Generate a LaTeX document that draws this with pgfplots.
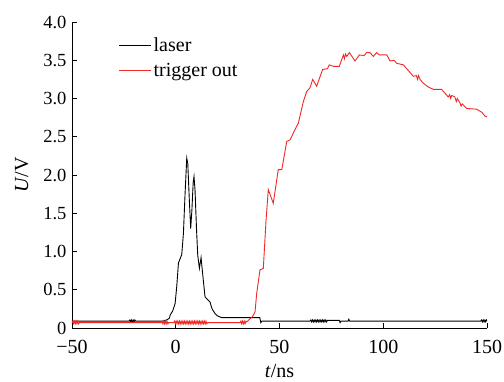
\documentclass[border=0pt]{standalone}
\usepackage{fontspec}
\setmainfont{Liberation Serif}
\usepackage{pgfplots}
\pgfplotsset{compat=1.18}
\definecolor{trig}{RGB}{240,40,40}
\begin{document}
\begin{tikzpicture}
\begin{axis}[
  scale only axis, width=415pt, height=306pt,
  at={(0,0)}, anchor=south west,
  xmin=-50, xmax=150, ymin=0, ymax=4,
  axis x line*=bottom, axis y line*=left,
  axis line style={line width=0.8pt, -},
  tick align=inside, major tick length=5pt,
  tick style={line width=0.8pt, black},
  xtick={-50,0,50,100,150},
  xticklabels={−50,0,50,100,150},
  ytick={0,0.5,1,1.5,2,2.5,3,3.5,4},
  yticklabels={0,0.5,1.0,1.5,2.0,2.5,3.0,3.5,4.0},
  x tick label style={font=\fontsize{20}{22}\selectfont, yshift=-9pt},
  y tick label style={font=\fontsize{18.5}{22}\selectfont, xshift=-2pt},
  xlabel={\textit{t}/ns}, ylabel={\textit{U}/V},
  label style={font=\fontsize{20}{22}\selectfont},
  xlabel style={yshift=-3pt},
  ylabel style={yshift=8pt},
  legend style={draw=none, fill=none, at={(rel axis cs:0.105,0.962)}, anchor=north west,
    font=\fontsize{20}{24}\selectfont, row sep=6pt},
  legend cell align=left,
  legend image code/.code={\draw[#1] (0pt,0pt) -- (32pt,0pt);},
]
\addplot[black, line width=0.9pt] coordinates {
(-50,0.09) (-22.5,0.09) (-22.1,0.105) (-21.7,0.08) (-21.3,0.105) (-20.9,0.08) (-20.5,0.105) (-20.1,0.08) (-19.7,0.105) (-19.3,0.09)
(-6,0.09) (-4,0.11) (-3,0.13) (-2.7,0.17) (-1.5,0.22) (-0.3,0.32) (0.5,0.55) (1.3,0.85) (2.9,0.96) (3.7,1.24) (4.5,1.76) (5.3,2.22)
(5.8,2.15) (6.5,1.70) (7.2,1.30) (7.8,1.55) (8.4,1.90) (8.8,1.98) (9.3,1.80) (10.0,1.30) (10.6,0.95) (11.4,0.78) (12.2,0.92)
(13.0,0.70) (14.1,0.41) (15.0,0.38) (16.5,0.34) (17.5,0.25) (18.9,0.19) (20,0.16) (22.2,0.135) (40.5,0.135) (41.0,0.07) (41.5,0.09)
(64.7,0.09) (65.1,0.105) (65.5,0.08) (65.9,0.105) (66.3,0.08) (66.7,0.105) (67.1,0.08) (67.5,0.105) (67.9,0.08) (68.3,0.105) (68.7,0.08) (69.1,0.105) (69.5,0.08) (69.9,0.105) (70.3,0.08) (70.7,0.105) (71.1,0.08) (71.5,0.105) (71.9,0.08) (72.3,0.105) (72.7,0.08) (73.1,0.10)
(78.8,0.10) (79.2,0.07) (79.6,0.09) (83.0,0.09) (83.4,0.115) (83.8,0.09)
(147,0.09) (147.4,0.105) (147.8,0.08) (148.2,0.105) (148.6,0.08) (149,0.105) (149.4,0.08) (149.8,0.105) (150,0.09)
};
\addlegendentry{laser}
\addplot[trig, line width=0.9pt] coordinates {
(-50,0.07) (-49.6,0.09) (-49.2,0.055) (-48.8,0.09) (-48.4,0.055) (-48,0.09) (-47.6,0.055) (-47.2,0.09) (-46.8,0.055) (-46.4,0.07)
(-7,0.07) (-6.6,0.09) (-6.2,0.055) (-5.8,0.09) (-5.4,0.055) (-5,0.09) (-4.6,0.055) (-4.2,0.09) (-3.8,0.055) (-3.4,0.07)
(-1,0.07) (-0.6,0.09) (-0.2,0.055) (0.2,0.09) (0.6,0.055) (1,0.09) (1.4,0.055) (1.8,0.09) (2.2,0.055) (2.6,0.09) (3,0.055) (3.4,0.09) (3.8,0.055) (4.2,0.09) (4.6,0.055) (5,0.09) (5.4,0.055) (5.8,0.09) (6.2,0.055) (6.6,0.09) (7,0.055) (7.4,0.09) (7.8,0.055) (8.2,0.09) (8.6,0.055) (9,0.09) (9.4,0.055) (9.8,0.09) (10.2,0.055) (10.6,0.09) (11,0.055) (11.4,0.09) (11.8,0.055) (12.2,0.09) (12.6,0.055) (13,0.09) (13.4,0.055) (13.8,0.09) (14.2,0.055) (14.6,0.09) (15,0.055) (15.4,0.07)
(31,0.07) (31.4,0.09) (31.8,0.055) (32.2,0.09) (32.6,0.055) (33,0.09) (33.4,0.055) (33.8,0.09) (34.2,0.08)
(35.8,0.12) (37,0.15) (38.2,0.21) (39,0.45) (40.6,0.76) (42.2,0.78) (43.5,1.4) (44.6,1.81) (47,1.63) (49.4,2.07) (51.1,2.07)
(53.5,2.44) (55.1,2.46) (56.7,2.55) (59.1,2.68) (61.5,2.96) (63.1,3.09) (64.7,3.14) (66.0,3.25) (67.9,3.16) (70.8,3.38) (73.1,3.39)
(74.0,3.44) (76.0,3.42) (78.8,3.42) (80.8,3.57) (81.3,3.52) (81.8,3.58) (82.4,3.55) (83.7,3.60) (86.4,3.49) (88.5,3.57) (90.7,3.56)
(92.0,3.60) (93.6,3.60) (95.2,3.55) (96.8,3.60) (98.1,3.57) (101.7,3.57) (103.3,3.49) (105.2,3.50) (106.5,3.46) (109.7,3.44)
(114.5,3.29) (116.0,3.30) (116.5,3.25) (117.0,3.30) (117.7,3.25) (119.3,3.20) (121.7,3.15) (124.1,3.12) (128.1,3.12) (131.3,3.02)
(132.0,3.05) (132.5,3.00) (133.0,3.04) (134.5,3.02) (135.2,2.96) (135.7,3.00) (137.0,2.94) (137.5,2.90) (138,2.93) (140.2,2.87)
(145.0,2.86) (147.5,2.82) (149.0,2.77) (150,2.76)
};
\addlegendentry{trigger out}
\end{axis}
\pgfresetboundingbox
\path[use as bounding box] (-72pt,-53pt) rectangle (432pt,328pt);
\end{tikzpicture}
\end{document}
